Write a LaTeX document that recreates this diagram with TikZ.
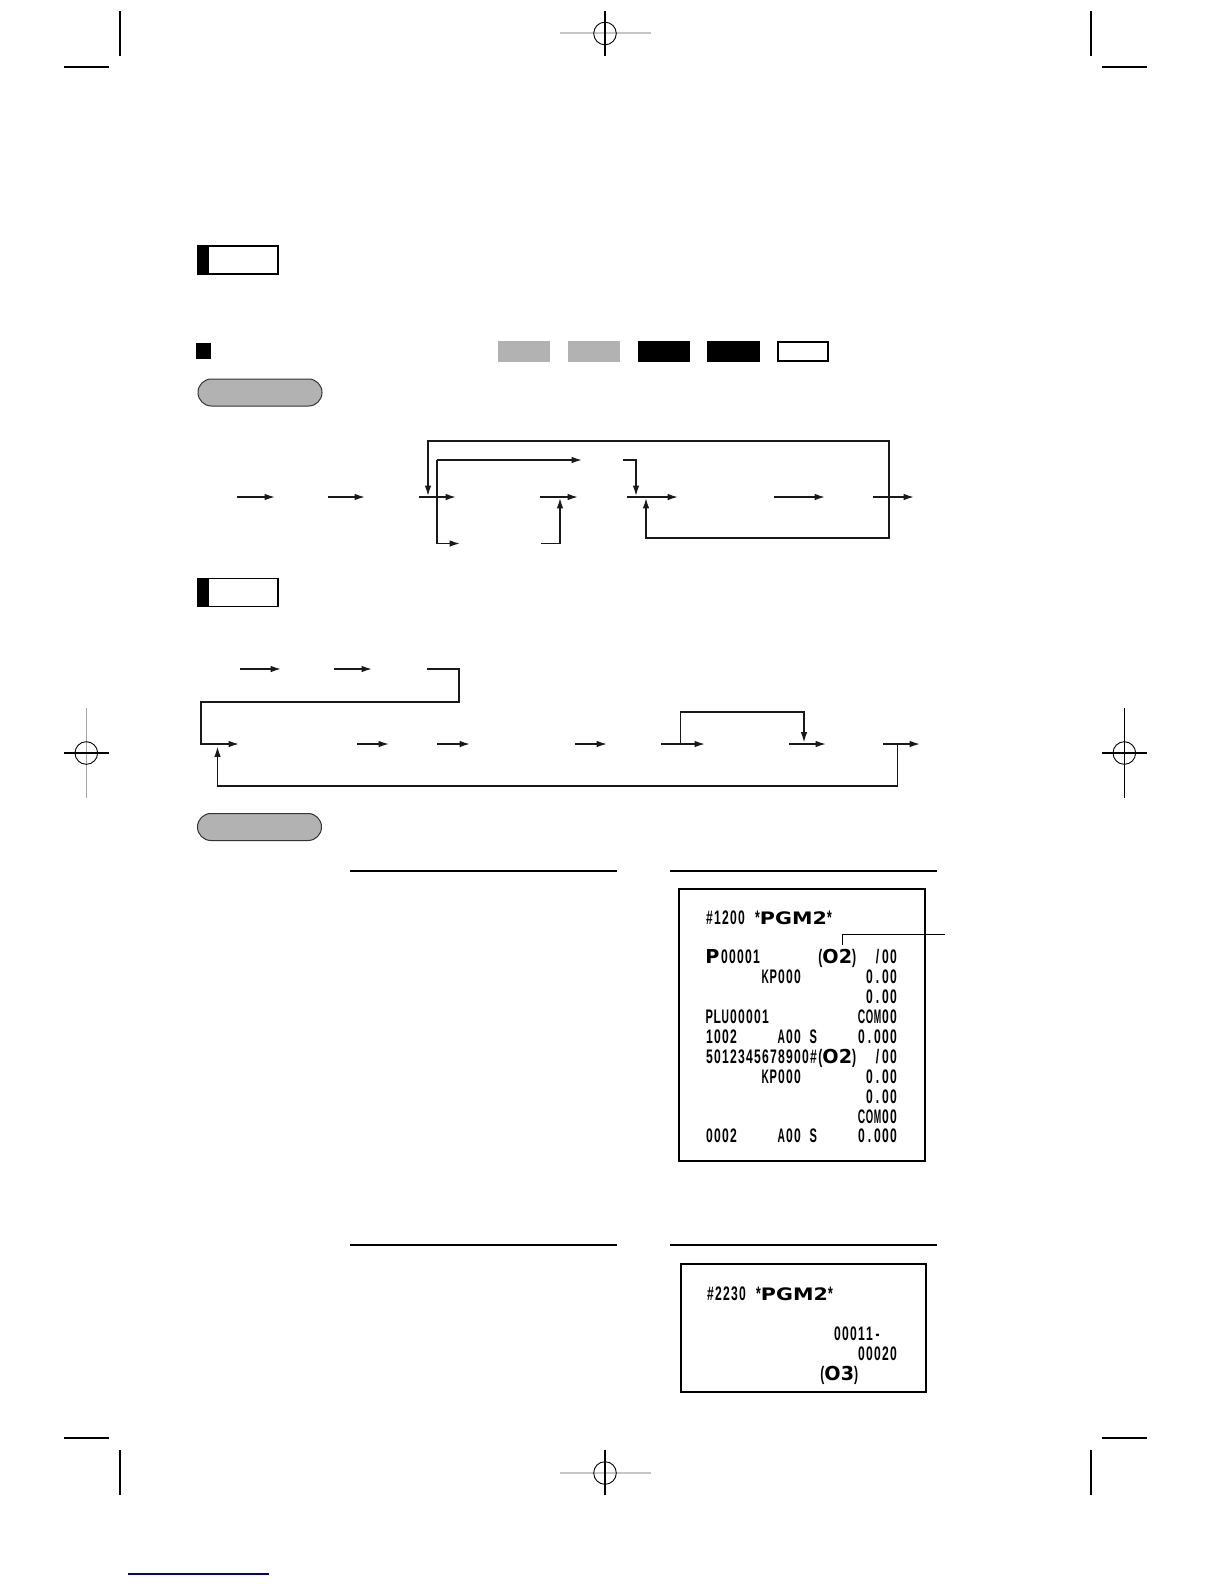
\documentclass[tikz,border=0pt]{standalone}
\usepackage{fontspec}
\usetikzlibrary{arrows.meta,positioning,calc}
\newfontfamily\rcfont[FakeStretch=0.62]{Liberation Sans}
\newfontfamily\pgmfont[FakeStretch=1.2]{DejaVu Sans}
\newfontfamily\bigfont{DejaVu Sans}
\newcommand\rcsize{\fontsize{9.8pt}{11pt}\selectfont}
\newcommand\pgmtext[1]{{\pgmfont\bfseries\fontsize{8.6pt}{9pt}\selectfont #1}}
\newcommand\bigtext[1]{{\bigfont\bfseries\fontsize{9.6pt}{10pt}\selectfont #1}}
% receipt characters in fixed cells
\makeatletter
\newcommand\rcpt[1]{\@tfor\rc@c:=#1\do{%
  \sbox0{\rc@c}%
  \makebox[4pt][c]{\ifdim\wd0>3.7pt\resizebox{3.7pt}{\height}{\rc@c}\else\rc@c\fi}}}
\makeatother

\begin{document}
\begin{tikzpicture}[x=0.5pt, y=-0.5pt,
  flow/.style={-{Latex[length=5.2pt,width=3.3pt]}, line width=0.75pt, black!90},
  wire/.style={line width=0.75pt, black!90},
  notebox/.style={draw, line width=0.6pt, minimum width=40pt, minimum height=14pt, inner sep=0,
    path picture={\fill (path picture bounding box.south west) rectangle ([xshift=5.5pt]path picture bounding box.north west);}},
  modebox/.style={minimum width=26.25pt, minimum height=10.25pt, inner sep=0},
  pill/.style={draw=black!80, fill=black!30, line width=0.5pt, rounded corners=6.7pt, minimum width=62pt, minimum height=13.5pt, inner sep=0},
  rule/.style={line width=0.75pt},
  slip/.style={draw, line width=0.6pt, inner sep=0},
  txt/.style={inner sep=0, font=\rcfont\bfseries\rcsize},
  crop/.style={line width=0.55pt},
  regmark/.style={circle, draw, line width=0.45pt, minimum size=11.3pt, inner sep=0}]
\fill[white] (0,0) rectangle (1224,1584);
\useasboundingbox (0,0) rectangle (1224,1584);

% crop and registration marks
\draw[crop] (120,11) -- (120,56);
\draw[crop] (64,67) -- (109,67);
\draw[crop] (1091,11) -- (1091,56);
\draw[crop] (1102,67) -- (1147,67);
\draw[crop] (120,1450) -- (120,1495);
\draw[crop] (64,1438) -- (109,1438);
\draw[crop] (1091,1450) -- (1091,1495);
\draw[crop] (1102,1438) -- (1147,1438);
\draw[gray!45, line width=1pt] (560,33.5) -- (651,33.5);
\draw[crop] (605,11) -- (605,56);
\node[regmark] (regT) at (605,33.5) {};
\draw[gray!45, line width=1pt] (560,1473) -- (651,1473);
\draw[crop] (605,1450) -- (605,1495);
\node[regmark] (regB) at (605,1473) {};
\draw[crop, gray!70] (86.3,708) -- (86.3,798);
\draw[crop] (64,753) -- (109,753);
\node[regmark] (regL) at (86.3,753) {};
\draw[crop] (1124.3,708) -- (1124.3,798);
\draw[crop] (1102,753) -- (1147,753);
\node[regmark] (regR) at (1124.3,753) {};
\draw[line width=0.75pt, blue!50!black] (128,1574) -- (269,1574);

% headings
\node[notebox] (note1) at (238,260) {};
\node[fill, minimum width=7.5pt, minimum height=8pt, inner sep=0] (mark) at (203.5,351) {};
\node[modebox, fill=black!30] (mode1) at (524,351.7) {};
\node[modebox, fill=black!30] (mode2) at (594,351.7) {};
\node[modebox, fill=black] (mode3) at (664,351.7) {};
\node[modebox, fill=black] (mode4) at (733.5,351.7) {};
\node[modebox, draw, line width=1pt, minimum width=25.25pt, minimum height=9.25pt] (mode5) at (803,351.7) {};
\node[pill] (pill1) at (260,392.5) {};

% first key sequence
\coordinate (a1s) at (237,497); \coordinate (a1e) at (275,497);
\coordinate (a2s) at (328,497); \coordinate (a2e) at (365,497);
\coordinate (a3s) at (419,497); \coordinate (a3e) at (456,497);
\coordinate (b1) at (437,460); \coordinate (b1e) at (582,460);
\coordinate (b2) at (437,543.5); \coordinate (b2e) at (460,543.5);
\coordinate (a4s) at (540,497); \coordinate (a4e) at (578,497);
\coordinate (u1s) at (541,543.5); \coordinate (u1c) at (560,543.5); \coordinate (u1e) at (560,498);
\coordinate (d1s) at (623,460); \coordinate (d1c) at (636,460); \coordinate (d1e) at (636,496);
\coordinate (a5s) at (627,497); \coordinate (a5e) at (678,497);
\coordinate (a6s) at (774,497); \coordinate (a6e) at (825,497);
\coordinate (a7s) at (873,497); \coordinate (a7e) at (914,497);
\coordinate (rv) at (889,497); \coordinate (rvt) at (889,441); \coordinate (rvb) at (889,538);
\coordinate (jt) at (428,441); \coordinate (jtd) at (428,496);
\coordinate (u2c) at (646,538); \coordinate (u2e) at (646,498);

\draw[flow] (a1s) -- (a1e);
\draw[flow] (a2s) -- (a2e);
\draw[flow] (a3s) -- (a3e);
\draw[wire] (b1) -- (b2);
\draw[flow] (b1) -- (b1e);
\draw[flow] (b2) -- (b2e);
\draw[flow] (a4s) -- (a4e);
\draw[flow] (u1s) -- (u1c) -- (u1e);
\draw[flow] (d1s) -- (d1c) -- (d1e);
\draw[flow] (a5s) -- (a5e);
\draw[flow] (a6s) -- (a6e);
\draw[flow] (a7s) -- (a7e);
\draw[flow] (rv) -- (rvt) -- (jt) -- (jtd);
\draw[flow] (rv) -- (rvb) -- (u2c) -- (u2e);

% second key sequence
\node[notebox] (note2) at (238,592.5) {};
\coordinate (g1s) at (240,669); \coordinate (g1e) at (281,669);
\coordinate (g2s) at (334,669); \coordinate (g2e) at (372,669);
\coordinate (g3s) at (427,669); \coordinate (g3c) at (459,669);
\coordinate (g3d) at (459,702); \coordinate (g3f) at (201,702);
\coordinate (g3g) at (201,744); \coordinate (g3e) at (239,744);
\coordinate (h2s) at (357,744); \coordinate (h2e) at (389,744);
\coordinate (h3s) at (437,744); \coordinate (h3e) at (470,744);
\coordinate (h4s) at (575,744); \coordinate (h4e) at (607,744);
\coordinate (h5s) at (661,744); \coordinate (h5e) at (705,744);
\coordinate (h6s) at (789,744); \coordinate (h6e) at (826,744);
\coordinate (h7s) at (883,744); \coordinate (h7e) at (920,744);
\coordinate (by0) at (680.5,744); \coordinate (by1) at (680.5,712);
\coordinate (by2) at (804,712); \coordinate (by3) at (804,742.5);
\coordinate (rt0) at (897.5,744); \coordinate (rt1) at (897.5,786);
\coordinate (rt2) at (217.5,786); \coordinate (rt3) at (217.5,746.5);

\draw[flow] (g1s) -- (g1e);
\draw[flow] (g2s) -- (g2e);
\draw[flow] (g3s) -- (g3c) -- (g3d) -- (g3f) -- (g3g) -- (g3e);
\draw[flow] (h2s) -- (h2e);
\draw[flow] (h3s) -- (h3e);
\draw[flow] (h4s) -- (h4e);
\draw[flow] (h5s) -- (h5e);
\draw[flow] (h6s) -- (h6e);
\draw[flow] (h7s) -- (h7e);
\draw[flow] (by0) -- (by1) -- (by2) -- (by3);
\draw[flow] (rt0) -- (rt1) -- (rt2) -- (rt3);

% print samples
\node[pill] (pill2) at (259.5,827) {};
\draw[rule] (350,871) -- (617,871);
\draw[rule] (670,871) -- (937,871);
\node[slip, minimum width=123pt, minimum height=136pt] (slip1) at (802,1025) {};
\node[txt, anchor=base west] (s1h) at (705,924.5) {\rcpt{\#1200~*}\makebox[32pt][c]{\pgmtext{PGM2}}\rcpt{*}};
\node[txt, anchor=base west] (s1p) at (705,963.5) {\makebox[7.5pt][l]{\bigtext{P}}\rcpt{00001}};
\node[txt, anchor=base west] (s1o) at (818,963.5) {(\bigtext{O2})};
\node[txt, anchor=base east] (s1q) at (898,963.5) {\rcpt{/00}};
\node[txt, anchor=base west] (s1k) at (761,983.5) {\rcpt{KP000}};
\node[txt, anchor=base east] (s1t) at (898,983.5) {\rcpt{0.00}};
\node[txt, anchor=base east] (s1u) at (898,1003) {\rcpt{0.00}};
\node[txt, anchor=base west] (s1l) at (705,1023) {\rcpt{PLU00001}};
\node[txt, anchor=base east] (s1c) at (898,1023) {\rcpt{COM00}};
\node[txt, anchor=base west] (s1n) at (705,1043) {\rcpt{1002}};
\node[txt, anchor=base west] (s1s) at (777,1043) {\rcpt{A00~S}};
\node[txt, anchor=base east] (s1v) at (898,1043) {\rcpt{0.000}};
\node[txt, anchor=base west] (s1b) at (705,1063) {\rcpt{5012345678900\#}};
\node[txt, anchor=base west] (s1o2) at (818,1063) {(\bigtext{O2})};
\node[txt, anchor=base east] (s1q2) at (898,1063) {\rcpt{/00}};
\node[txt, anchor=base west] (s1k2) at (761,1083) {\rcpt{KP000}};
\node[txt, anchor=base east] (s1t2) at (898,1083) {\rcpt{0.00}};
\node[txt, anchor=base east] (s1u2) at (898,1103) {\rcpt{0.00}};
\node[txt, anchor=base east] (s1c2) at (898,1123) {\rcpt{COM00}};
\node[txt, anchor=base west] (s1n2) at (705,1142.5) {\rcpt{0002}};
\node[txt, anchor=base west] (s1s2) at (777,1142.5) {\rcpt{A00~S}};
\node[txt, anchor=base east] (s1v2) at (898,1142.5) {\rcpt{0.000}};
\coordinate (ld0) at (842,945); \coordinate (ld1) at (842,934); \coordinate (ld2) at (945,934);
\draw[line width=0.5pt] (ld0) -- (ld1) -- (ld2);

\draw[rule] (350,1245) -- (617,1245);
\draw[rule] (670,1245) -- (937,1245);
\node[slip, minimum width=122.5pt, minimum height=64pt] (slip2) at (803.5,1328) {};
\node[txt, anchor=base west] (s2h) at (706,1300) {\rcpt{\#2230~*}\makebox[32pt][c]{\pgmtext{PGM2}}\rcpt{*}};
\node[txt, anchor=base east] (s2a) at (882,1340) {\rcpt{00011-}};
\node[txt, anchor=base east] (s2b) at (898,1360) {\rcpt{00020}};
\node[txt, anchor=base west] (s2c) at (820,1380) {(\bigtext{O3})};
\end{tikzpicture}
\end{document}
